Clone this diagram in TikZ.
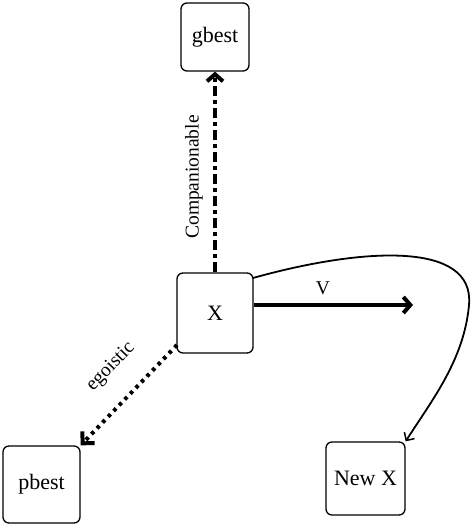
\documentclass[tikz,border=0pt]{standalone}
\usepackage{fontspec}
\setmainfont{Liberation Serif}
\usetikzlibrary{arrows.meta}
\begin{document}
\begin{tikzpicture}[x=1pt,y=-1pt,
  box/.style={draw, line width=1.3pt, rounded corners=6pt, font=\fontsize{22}{26}\selectfont, inner sep=0pt},
  lbl/.style={font=\fontsize{19.5}{22}\selectfont},
  thickarrow/.style={line width=4pt, -{Straight Barb[length=7pt,width=16pt,line width=4pt]}}]
\useasboundingbox (0,0) rectangle (474,526);
\node[box, minimum width=68pt, minimum height=68pt] (g) at (215,37) {gbest};
\node[box, minimum width=76pt, minimum height=80pt] (x) at (215,313) {X};
\node[box, minimum width=77pt, minimum height=77pt] (p) at (41.5,484.5) {pbest};
\node[box, minimum width=79pt, minimum height=73pt] (n) at (365.5,478.5) {New X};
\coordinate (vend) at (413,305);
\coordinate (es) at (177,345);
\coordinate (cs) at (253,278);
\draw[thickarrow, dash pattern=on 10pt off 4pt on 4pt off 4pt] (x.north) -- (g.south);
\node[lbl, rotate=90] (comp) at (194,177) {Companionable};
\draw[thickarrow] (x.east |- vend) -- (vend);
\node[lbl] (vl) at (323,288) {V};
\draw[line width=4pt, dash pattern=on 3.5pt off 4.5pt, -{Straight Barb[angle=90:12pt,line width=4pt]}] (es) -- (p.north east);
\node[lbl, rotate=46] (eg) at (111,367) {egoistic};
\draw[line width=1.8pt, -{Straight Barb[length=6pt,width=12pt,line width=1.5pt]}] (cs) .. controls (360,248) and (475,240) .. (469,305) .. controls (464,360) and (432,400) .. (n.north east);
\end{tikzpicture}
\end{document}
